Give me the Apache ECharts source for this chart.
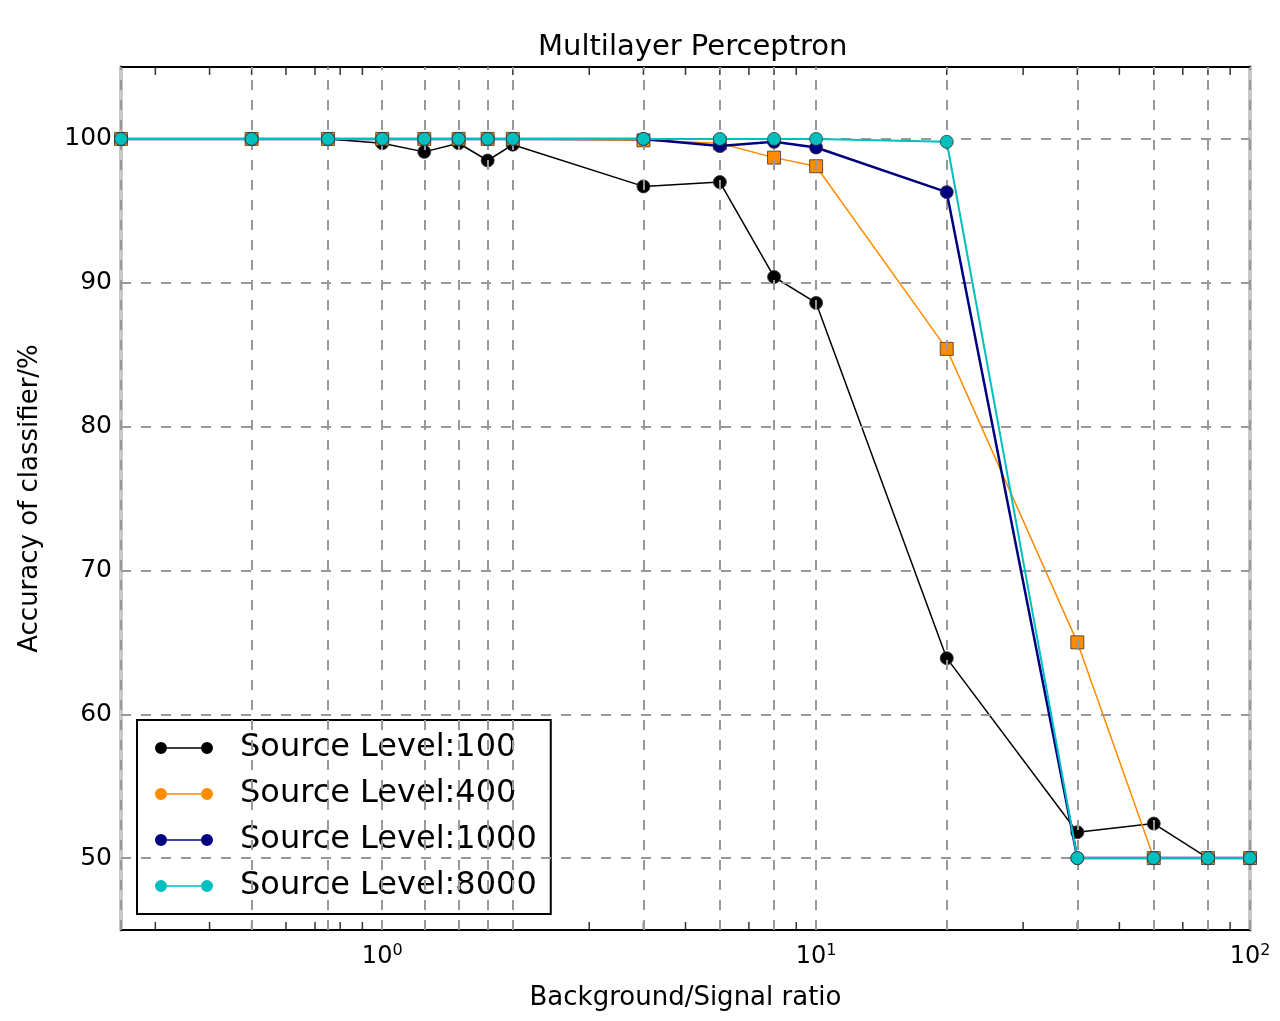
<!DOCTYPE html>
<html>
<head>
<meta charset="utf-8">
<title>Multilayer Perceptron</title>
<script src="https://cdn.jsdelivr.net/npm/echarts@6/dist/echarts.min.js"></script>
<style>
  html,body{margin:0;padding:0;background:#fff;}
  #main{width:1280px;height:1021px;}
</style>
</head>
<body>
<div id="main"></div>
<script>
// x positions (background/signal ratio) shared by all series, also the dashed grid positions
var ratios=[0.25,0.5,0.75,1,1.25,1.5,1.75,2,4,6,8,10,20,40,60,80,100];
var yGrid=[50,60,70,80,90,100];
var minorTicks=[0.3,0.4,0.5,0.6,0.7,0.8,0.9,2,3,4,5,6,7,8,9,20,30,40,50,60,70,80,90];

var level100=[100,100,100,99.7,99.1,99.7,98.5,99.6,96.7,97.0,90.4,88.6,63.9,51.8,52.4,50,50];
var level400=[100,100,100,100,100,100,100,100,99.9,99.7,98.7,98.1,85.4,65.0,50,50,50];
var level1000=[100,100,100,100,100,100,100,100,100,99.5,99.8,99.4,96.3,50,50,50,50];
var level8000=[100,100,100,100,100,100,100,100,100,100,100,100,99.8,50,50,50,50];

var names=['Source Level:100','Source Level:400','Source Level:1000','Source Level:8000'];
var colors=['#000000','#ff8c00','#000080','#00bfbf'];

var FONT='DejaVu Sans';

function pairs(vals){
  var out=[];
  for (var i=0;i<ratios.length;i++) {
    out.push([ratios[i],vals[i]]);
  }
  return out;
}

var legendIcon='path://M0,7a6,6 0 1,0 12,0a6,6 0 1,0 -12,0Z M12,6.2H46V7.8H12Z M46,7a6,6 0 1,0 12,0a6,6 0 1,0 -12,0Z';

function lineSeries(idx,vals,width,symbol){
  return {
    name:names[idx],
    type:'line',
    xAxisIndex:0,
    yAxisIndex:0,
    data:pairs(vals),
    symbol:symbol,
    symbolSize:13,
    showSymbol:true,
    z:3+idx,
    lineStyle:{color:colors[idx],width:width},
    itemStyle:{color:colors[idx],borderColor:'#333',borderWidth:0.8},
    emphasis:{disabled:true},
    animation:false
  };
}

var gridLines=[];
for (var i=0;i<ratios.length;i++) gridLines.push({xAxis:ratios[i]});
for (var j=0;j<yGrid.length;j++) gridLines.push({yAxis:yGrid[j]});

var bottomTicks=minorTicks.map(function(v){return [v,45];});
var topTicks=minorTicks.map(function(v){return [v,105];});

var option={
  backgroundColor:'#fff',
  animation:false,
  title:{
    text:'Multilayer Perceptron',
    left:533,
    top:28,
    textStyle:{fontFamily:FONT,fontSize:29,fontWeight:'normal',color:'#000'}
  },
  grid:{left:121,right:30,top:67,bottom:91,containLabel:false},
  legend:{
    orient:'vertical',
    left:137,
    top:720,
    padding:[11,14,11,18],
    itemGap:12,
    itemWidth:58,
    itemHeight:14,
    backgroundColor:'#fff',
    borderColor:'#000',
    borderWidth:2,
    borderRadius:0,
    selectedMode:false,
    itemStyle:{borderWidth:0},
    data:names.map(function(n){return {name:n,icon:legendIcon};}),
    textStyle:{fontFamily:FONT,fontSize:32,color:'#000',lineHeight:34,padding:[0,0,0,22]}
  },
  xAxis:[
    {
      type:'log',
      logBase:10,
      min:0.25,
      max:100,
      name:'Background/Signal ratio',
      nameLocation:'middle',
      nameGap:55,
      nameTextStyle:{fontFamily:FONT,fontSize:26,color:'#000'},
      axisLine:{show:true,onZero:false,lineStyle:{color:'#000',width:2}},
      axisTick:{show:false},
      splitLine:{show:false},
      minorTick:{show:false},
      minorSplitLine:{show:false},
      axisLabel:{
        margin:13,
        showMinLabel:true,
        showMaxLabel:true,
        formatter:function(v){
          var e=Math.round(Math.log(v)/Math.LN10);
          if (Math.abs(v-Math.pow(10,e))>1e-6*v) return '';
          return '{b|10}{s|'+e+'}';
        },
        rich:{
          b:{fontFamily:FONT,fontSize:24,color:'#000',lineHeight:28},
          s:{fontFamily:FONT,fontSize:16,color:'#000',lineHeight:14,verticalAlign:'top'}
        }
      }
    },
    {
      type:'log',
      logBase:10,
      min:0.25,
      max:100,
      position:'top',
      axisLine:{show:true,onZero:false,lineStyle:{color:'#000',width:2}},
      axisTick:{show:false},
      axisLabel:{show:false},
      splitLine:{show:false}
    }
  ],
  yAxis:[
    {
      type:'value',
      min:45,
      max:105,
      name:'Accuracy of classifier/%',
      nameLocation:'middle',
      nameGap:78,
      nameTextStyle:{fontFamily:FONT,fontSize:26,color:'#000'},
      axisLine:{show:true,lineStyle:{color:'#c8c8c8',width:4}},
      axisTick:{show:true,inside:true,length:8,customValues:yGrid,lineStyle:{color:'#000',width:1.5}},
      axisLabel:{customValues:yGrid,margin:9,fontFamily:FONT,fontSize:25,color:'#000'},
      splitLine:{show:false}
    },
    {
      type:'value',
      min:45,
      max:105,
      position:'right',
      axisLine:{show:true,lineStyle:{color:'#c8c8c8',width:4}},
      axisTick:{show:true,inside:true,length:8,customValues:yGrid,lineStyle:{color:'#000',width:1.5}},
      axisLabel:{show:false},
      splitLine:{show:false}
    }
  ],
  series:[
    {
      name:'grid',
      type:'line',
      data:[],
      z:1,
      silent:true,
      markLine:{
        silent:true,
        symbol:['none','none'],
        animation:false,
        label:{show:false},
        lineStyle:{color:'#999',width:2,type:[10,10]},
        data:gridLines
      }
    },
    {
      name:'ticksBottom',
      type:'scatter',
      data:bottomTicks,
      symbol:'rect',
      symbolSize:[1.5,8],
      symbolOffset:[0,-4],
      itemStyle:{color:'#000'},
      silent:true,
      z:2
    },
    {
      name:'ticksTop',
      type:'scatter',
      data:topTicks,
      symbol:'rect',
      symbolSize:[1.5,8],
      symbolOffset:[0,4],
      itemStyle:{color:'#000'},
      silent:true,
      z:2
    },
    lineSeries(0,level100,1.5,'circle'),
    lineSeries(1,level400,1.5,'rect'),
    lineSeries(2,level1000,2.5,'circle'),
    lineSeries(3,level8000,2,'circle')
  ]
};

var chart=echarts.init(document.getElementById('main'));
chart.setOption(option);
</script>
</body>
</html>
